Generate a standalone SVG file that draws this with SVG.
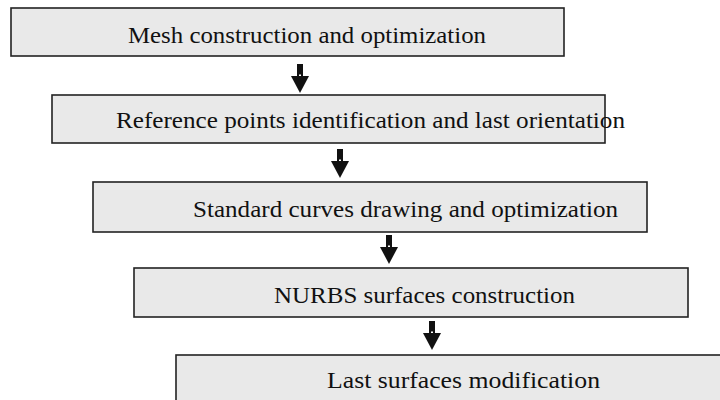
<svg xmlns="http://www.w3.org/2000/svg" xmlns:xlink="http://www.w3.org/1999/xlink" width="720" height="400" viewBox="0 0 720 400">
<style>
.box{fill:#e9e9e9;stroke:#222;stroke-width:1.6}
.lbl{fill:#111;font-family:'Liberation Serif','Times New Roman',serif;font-size:24px}
</style>
<defs>
<g id="arr">
<rect x="-3" y="0" width="6" height="12" fill="#111"/>
<polygon points="-9,12 9,12 0,29" fill="#111"/>
<rect x="-1" y="10.5" width="2" height="1.5" fill="#fff"/>
</g>
</defs>
<rect width="720" height="400" fill="#fff"/>
<g id="n1">
<rect class="box" x="11" y="8" width="553" height="48"/>
<text class="lbl" x="128" y="43" textLength="358" lengthAdjust="spacingAndGlyphs">Mesh construction and optimization</text>
</g>
<g id="n2">
<rect class="box" x="52" y="95" width="553" height="48"/>
<text class="lbl" x="116" y="128" textLength="509" lengthAdjust="spacingAndGlyphs">Reference points identification and last orientation</text>
</g>
<g id="n3">
<rect class="box" x="93" y="182" width="554" height="50"/>
<text class="lbl" x="193" y="217" textLength="425" lengthAdjust="spacingAndGlyphs">Standard curves drawing and optimization</text>
</g>
<g id="n4">
<rect class="box" x="134" y="268" width="554" height="49"/>
<text class="lbl" x="274" y="303" textLength="301" lengthAdjust="spacingAndGlyphs">NURBS surfaces construction</text>
</g>
<g id="n5">
<rect class="box" x="176" y="355" width="560" height="60"/>
<text class="lbl" x="327" y="388" textLength="273" lengthAdjust="spacingAndGlyphs">Last surfaces modification</text>
</g>
<g id="connectors">
<use xlink:href="#arr" x="300" y="64"/>
<use xlink:href="#arr" x="340" y="149"/>
<use xlink:href="#arr" x="389" y="235"/>
<use xlink:href="#arr" x="432" y="321"/>
</g>
</svg>
